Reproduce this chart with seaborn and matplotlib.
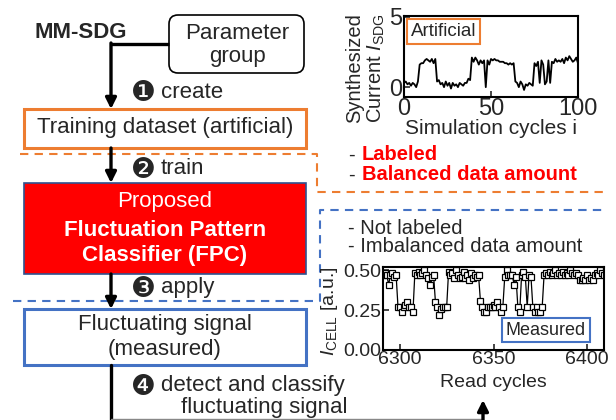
import numpy as np
import pandas as pd
import seaborn as sns
import matplotlib.pyplot as plt
from matplotlib.patches import Rectangle, FancyBboxPatch

# Data

# artificial signal from MM-SDG, i = 0..100
sdg_current = [0.3, 0.4, 0.2, 0.3, 0.1, 0.3, 0.2, 0.0, 0.4,
               1.6, 1.7, 1.7, 1.9, 2.0, 1.9, 1.8, 2.0, 1.7, 2.0,
               0.4, 0.5, 0.2, 0.3, 0.0, 0.4, 0.1, 0.3, -0.1, 0.3, 0.1, 0.2, 0.0, 0.3, 0.2, 0.1, 0.3, 0.3, 0.6, 0.5,
               2.1, 1.8, 2.1, 1.9, 1.6, 1.9, 1.7, 1.9, 0.0, 1.9, 1.6, 2.0, 1.9, 2.0, 1.9, 1.9, 1.8, 1.8, 1.8, 1.7,
               1.7, 1.6, 1.7, 1.6, 1.7,
               0.4, 0.3, 0.0, 0.4, 0.2, -0.2, 0.2, 0.1, 0.3, 0.2, 0.1,
               1.7, 1.5, 1.8, 0.3, 1.9, 1.6, 0.2, 0.4, 1.9, 0.3,
               1.8, 1.7, 2.0, 1.8, 1.9, 1.8, 2.0, 1.7, 2.1, 1.9, 2.2, 2.0, 1.8, 1.9, 2.1, 1.7]

# measured cell current, read cycles 6291..6409
cell_a = [0.47, 0.48, 0.47, 0.41, 0.47, 0.48, 0.46, 0.47]
cell_b = [0.27, 0.27, 0.24, 0.27, 0.28, 0.30, 0.27, 0.27, 0.24]
cell_c = [0.48, 0.47, 0.49, 0.47, 0.48, 0.50, 0.47, 0.45, 0.41, 0.46, 0.47]
cell_d = [0.30, 0.27, 0.22, 0.26, 0.27, 0.27, 0.27]
cell_e = [0.49, 0.47, 0.48, 0.45, 0.50, 0.47, 0.45, 0.46, 0.49, 0.45, 0.47, 0.44, 0.48, 0.45, 0.47, 0.46, 0.47]
cell_f = [0.31, 0.27, 0.24, 0.24, 0.27, 0.27, 0.27, 0.28, 0.27, 0.30, 0.27, 0.24, 0.27]
cell_g = [0.46, 0.50, 0.47, 0.47, 0.47, 0.41, 0.46,
          0.27, 0.24, 0.47, 0.49, 0.46, 0.27, 0.47, 0.46,
          0.27, 0.24, 0.27, 0.24, 0.24, 0.27]
cell_h = [0.47, 0.48, 0.47, 0.49, 0.47, 0.48, 0.50, 0.47, 0.48, 0.47, 0.49, 0.47, 0.48, 0.47, 0.50, 0.48,
          0.47, 0.48, 0.47, 0.44, 0.44, 0.45, 0.44, 0.47, 0.44, 0.45, 0.44, 0.47, 0.48, 0.47, 0.50, 0.48, 0.47]
cell_current = cell_a + cell_b + cell_c + cell_d + cell_e + cell_f + cell_g + cell_h

steps = ["\u2776", "\u2777", "\u2778", "\u2779"]
step_words = ["create", "train", "apply", "detect and classify"]

sdg_df = pd.DataFrame({"i": np.arange(len(sdg_current)), "I": sdg_current})
cell_df = pd.DataFrame({"cycle": 6291 + np.arange(len(cell_current)), "I": cell_current})

# Style
sns.set_style("ticks")
plt.rcParams['font.family'] = ['Liberation Sans', 'DejaVu Sans']
plt.rcParams['mathtext.fontset'] = 'custom'
plt.rcParams['mathtext.rm'] = 'Liberation Sans'
plt.rcParams['mathtext.it'] = 'Liberation Sans:italic'

ORANGE = "#ED7D31"
BLUE = "#4472C4"

fig = plt.figure(figsize=(6.16, 4.2), dpi=100)

# Flow diagram (pixel coordinates)
ax0 = fig.add_axes([0, 0, 1, 1])
ax0.set_xlim(0, 616)
ax0.set_ylim(420, 0)
ax0.axis("off")

arrow = dict(arrowstyle="-|>", lw=2.4, color="black", mutation_scale=16, shrinkA=0, shrinkB=0)

ax0.text(35, 32, "MM-SDG", fontsize=16, fontweight="bold", va="center", ha="left")
ax0.add_patch(FancyBboxPatch((169, 15), 135, 58, boxstyle="round,pad=0,rounding_size=9",
                             fc="white", ec="black", lw=1.2))
ax0.text(237, 45, "Parameter\ngroup", fontsize=16, ha="center", va="center", linespacing=1.15)
ax0.plot([169, 111], [44, 44], color="black", lw=2.4, solid_capstyle="butt")
ax0.annotate("", xy=(111, 109), xytext=(111, 43), arrowprops=arrow)

ax0.add_patch(Rectangle((24, 109), 282, 39, fc="white", ec=ORANGE, lw=2.2))
ax0.text(165, 128, "Training dataset (artificial)", fontsize=16, ha="center", va="center")

ax0.plot([20, 317, 317, 606], [154, 154, 192, 192], color=ORANGE, lw=1.5, ls=(0, (4, 3)))
ax0.annotate("", xy=(111, 183), xytext=(111, 148), arrowprops=arrow)

ax0.add_patch(Rectangle((24, 183), 282, 91, fc="#FF0000", ec="#2F528F", lw=1.2))
ax0.text(165, 201, "Proposed", fontsize=16, color="white", ha="center", va="center")
ax0.text(165, 243, "Fluctuation Pattern\nClassifier (FPC)", fontsize=16, color="white",
         fontweight="bold", ha="center", va="center", linespacing=1.2)

ax0.plot([13, 320, 320, 606], [301, 301, 210, 210], color=BLUE, lw=1.5, ls=(0, (4, 3)))
ax0.annotate("", xy=(111, 309), xytext=(111, 274), arrowprops=arrow)

ax0.add_patch(Rectangle((24, 309), 282, 56, fc="white", ec=BLUE, lw=2.2))
ax0.text(165, 337, "Fluctuating signal\n(measured)", fontsize=16, ha="center", va="center", linespacing=1.2)

ax0.plot([111, 111], [365, 420], color="black", lw=2.4)
ax0.plot([111, 483], [419, 419], color="#888888", lw=1)
ax0.annotate("", xy=(483, 400), xytext=(483, 421), arrowprops=arrow)

# numbered step labels
for num, word, y in zip(steps, step_words, [92, 169, 288, 386]):
    ax0.text(131, y + 1, num, fontsize=20, va="center", ha="left", family="DejaVu Sans")
    ax0.text(161, y, word, fontsize=16, va="center", ha="left")
ax0.text(181, 407, "fluctuating signal", fontsize=16, va="center", ha="left")

# side notes
ax0.text(348, 155, "-", fontsize=14.5, va="center", ha="left")
ax0.text(362, 155, "Labeled", fontsize=14.5, color="#FF0000", fontweight="bold", va="center", ha="left")
ax0.text(348, 175, "-", fontsize=14.5, va="center", ha="left")
ax0.text(362, 175, "Balanced data amount", fontsize=14.5, color="#FF0000", fontweight="bold",
         va="center", ha="left")
ax0.text(348, 228, "- Not labeled", fontsize=14.5, va="center", ha="left")
ax0.text(348, 247, "- Imbalanced data amount", fontsize=14.5, va="center", ha="left")

# Artificial signal plot
ax1 = fig.add_axes([404 / 616, 1 - 97 / 420, 174 / 616, 81 / 420])
sns.lineplot(data=sdg_df, x="i", y="I", ax=ax1, color="black", lw=1.3)
ax1.set_xlim(0, 100)
ax1.set_ylim(-0.7, 5.05)
ax1.set_xticks([0, 50, 100])
ax1.set_yticks([0, 5])
ax1.tick_params(direction="in", labelsize=17, length=4, width=1.2, pad=1)
ax1.set_xlabel("Simulation cycles i", fontsize=15, labelpad=-1)
ax1.set_ylabel("Synthesized\nCurrent $\\mathit{I}_{\\mathrm{SDG}}$", fontsize=14.5, linespacing=1.1)
ax1.yaxis.set_label_coords(-0.1, 0.36)
for s in ax1.spines.values():
    s.set_linewidth(1.5)
    s.set_color("black")
ax1.text(0.04, 0.81, "Artificial", transform=ax1.transAxes, fontsize=13.5, va="center", ha="left",
         bbox=dict(boxstyle="square,pad=0.2", fc="white", ec=ORANGE, lw=1.5))

# Measured signal plot
ax2 = fig.add_axes([383 / 616, 1 - 350 / 420, 221 / 616, 83 / 420])
sns.lineplot(data=cell_df, x="cycle", y="I", ax=ax2, color="black", lw=0.9, marker="s",
             markersize=4.3, markerfacecolor="white", markeredgecolor="black", markeredgewidth=0.9)
ax2.set_xlim(6291, 6409)
ax2.set_ylim(0, 0.52)
ax2.set_xticks([6300, 6350, 6400])
ax2.set_yticks([0, 0.25, 0.5])
ax2.set_yticklabels(["0.00", "0.25", "0.50"])
ax2.tick_params(direction="in", labelsize=14, length=4, width=1.2, pad=1)
ax2.set_xlabel("Read cycles", fontsize=14, labelpad=4)
ax2.set_ylabel("$\\mathit{I}_{\\mathrm{CELL}}$ [a.u.]", fontsize=14)
ax2.yaxis.set_label_coords(-0.195, 0.47)
for s in ax2.spines.values():
    s.set_linewidth(1.5)
    s.set_color("black")
ax2.text(0.737, 0.24, "Measured", transform=ax2.transAxes, fontsize=13, va="center", ha="center",
         bbox=dict(boxstyle="square,pad=0.2", fc="white", ec=BLUE, lw=1.5))

fig.savefig("out.png", dpi=100)
